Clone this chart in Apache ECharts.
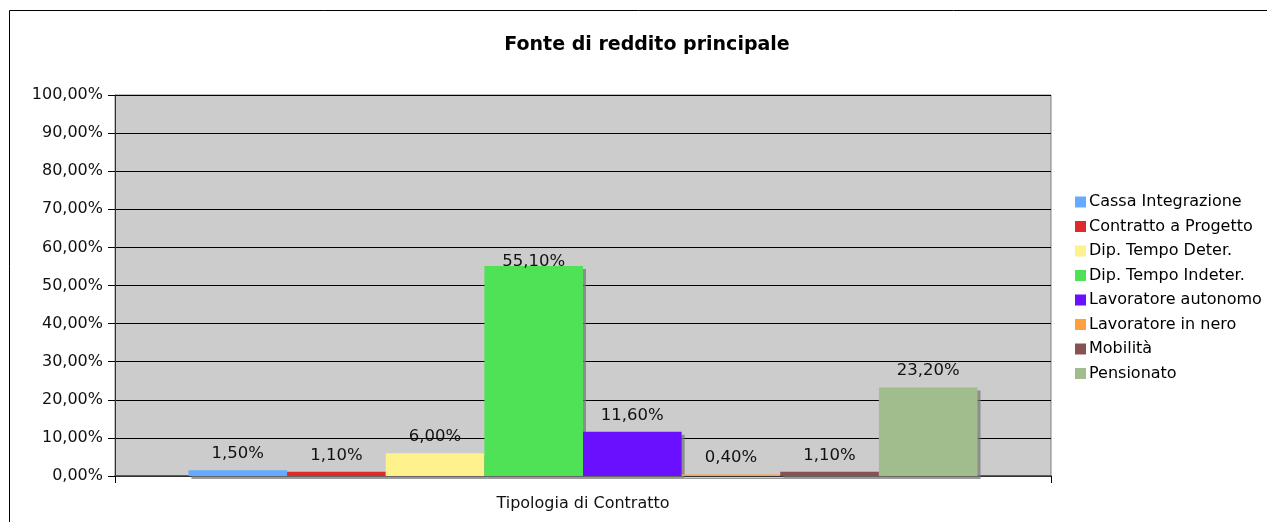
<!DOCTYPE html>
<html>
<head>
<meta charset="utf-8">
<script src="https://cdn.jsdelivr.net/npm/echarts@6/dist/echarts.min.js"></script>
<style>
html, body { margin: 0; padding: 0; background: #fff; }
#chart { width: 1267px; height: 522px; }
</style>
</head>
<body>
<div id="chart"></div>
<script>
// dati
var categorie = ["Tipologia di Contratto"];
var nomiSerie = ["Cassa Integrazione", "Contratto a Progetto", "Dip. Tempo Deter.", "Dip. Tempo Indeter.",
	"Lavoratore autonomo", "Lavoratore in nero", "Mobilità", "Pensionato"];
var valori = [1.5, 1.1, 6.0, 55.1, 11.6, 0.4, 1.1, 23.2];
var colori = ["#66aaff", "#dd2a2a", "#fff18c", "#4fe257", "#6a10ff", "#ffa040", "#875252", "#a1bd8e"];

var font = "'DejaVu Sans', Verdana, sans-serif";

// formato italiano con virgola
function perc(v) {
	return v.toFixed(2).replace(".", ",") + "%";
}

var series = [];
for (var i = 0; i < nomiSerie.length; i++) {
	series.push({
		name: nomiSerie[i],
		type: "bar",
		data: [valori[i]],
		barGap: "0%",
		barCategoryGap: "15.7%",
		itemStyle: {
			color: colori[i],
			shadowColor: "rgba(120,120,120,0.75)",
			shadowOffsetX: 3,
			shadowOffsetY: 3
		},
		label: {
			show: true,
			position: "top",
			// in Excel l'etichetta della barra più alta scende sulla barra
			distance: valori[i] > 50 ? -4 : 8,
			color: "#111",
			fontFamily: font,
			fontSize: 16.5,
			formatter: function(p) { return perc(p.value); }
		}
	});
}

var myChart = echarts.init(document.getElementById("chart"));
var option = {
	animation: false,
	textStyle: { fontFamily: font },
	title: {
		text: "Fonte di reddito principale",
		left: 642,
		textAlign: "center",
		top: 31,
		textStyle: { fontFamily: font, fontSize: 19, fontWeight: "bold", color: "#000" }
	},
	graphic: [{
		type: "rect",
		shape: { x: 9.5, y: 10.5, width: 1400, height: 700 },
		style: { fill: null, stroke: "#000", lineWidth: 1 },
		silent: true
	}],
	legend: {
		orient: "vertical",
		left: 1070,
		top: 189,
		itemWidth: 11,
		itemHeight: 11,
		itemGap: 8.5,
		icon: "rect",
		textStyle: { fontFamily: font, fontSize: 16, color: "#000", padding: [0, 0, 0, -2] },
		data: nomiSerie
	},
	grid: {
		left: 115,
		right: 216,
		top: 95,
		bottom: 46,
		show: true,
		backgroundColor: "#cccccc",
		borderColor: "#808080",
		borderWidth: 1
	},
	xAxis: {
		type: "category",
		data: categorie,
		axisLine: { lineStyle: { color: "#444", width: 1.5 } },
		axisTick: { show: true, length: 7, lineStyle: { color: "#000" } },
		axisLabel: { color: "#111", fontFamily: font, fontSize: 16, margin: 20 }
	},
	yAxis: {
		type: "value",
		min: 0,
		max: 100,
		interval: 10,
		axisLine: { show: true, lineStyle: { color: "#333" } },
		axisTick: { show: true, length: 7, lineStyle: { color: "#000" } },
		splitLine: { lineStyle: { color: "#000", width: 1 } },
		axisLabel: {
			color: "#111",
			fontFamily: font,
			fontSize: 16,
			margin: 12,
			formatter: function(v) { return perc(v); }
		}
	},
	series: series
};
myChart.setOption(option);
</script>
</body>
</html>
